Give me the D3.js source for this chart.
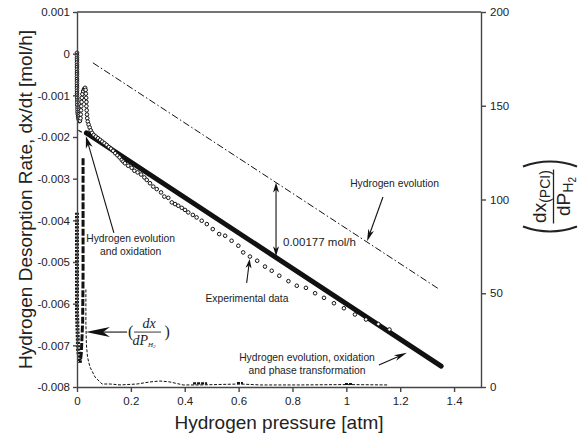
<!DOCTYPE html>
<html>
<head>
<meta charset="utf-8">
<script src="https://cdn.jsdelivr.net/npm/d3@7"></script>
<style>
  body { margin: 0; background: #fff; }
  svg { display: block; font-family: "Liberation Sans", Arial, Helvetica, sans-serif; }
</style>
</head>
<body>
<svg id="chart" width="583" height="438"></svg>
<script>
// ---------------- axis ticks ----------------
const xTicks = [0, 0.2, 0.4, 0.6, 0.8, 1, 1.2, 1.4];
const xTickLabels = ["0", "0.2", "0.4", "0.6", "0.8", "1", "1.2", "1.4"];
const yLeftTicks = [0.001, 0, -0.001, -0.002, -0.003, -0.004, -0.005, -0.006, -0.007, -0.008];
const yLeftTickLabels = ["0.001", "0", "-0.001", "-0.002", "-0.003", "-0.004", "-0.005", "-0.006", "-0.007", "-0.008"];
const yRightTicks = [0, 50, 100, 150, 200];
const yRightTickLabels = ["0", "50", "100", "150", "200"];

// ---------------- series ----------------
// Measured desorption rate [pressure (atm), dx/dt (mol/h)]
const experimental = [
  [0, 0.00002], [0, -0.00004], [0, -0.00010], [0, -0.00015], [0, -0.00021], [0, -0.00027],
  [0, -0.00032], [0, -0.00038], [0, -0.00044], [0, -0.00049], [0, -0.00055], [0, -0.00061],
  [0, -0.00066], [0, -0.00072], [0, -0.00078], [0, -0.00083], [0, -0.00089], [0, -0.00095],
  [0, -0.00100], [0.001, -0.00106], [0.001, -0.00112], [0.001, -0.00117], [0.001, -0.00123],
  [0.002, -0.00129], [0.002, -0.00134], [0.002, -0.00140], [0.003, -0.00145], [0.004, -0.00150],
  [0.005, -0.00155], [0.007, -0.00159], [0.009, -0.00162],
  [0.011, -0.00161], [0.013, -0.00155], [0.014, -0.00146], [0.015, -0.00136], [0.016, -0.00126],
  [0.017, -0.00116], [0.018, -0.00106], [0.020, -0.00097], [0.023, -0.00090], [0.026, -0.00085],
  [0.030, -0.00082], [0.032, -0.00087], [0.033, -0.00096], [0.034, -0.00106], [0.035, -0.00116],
  [0.035, -0.00126], [0.036, -0.00136], [0.037, -0.00146], [0.038, -0.00155], [0.040, -0.00163],
  [0.043, -0.00170], [0.047, -0.00177], [0.051, -0.00184], [0.056, -0.00190],
  [0.062, -0.00195], [0.070, -0.00199], [0.078, -0.00203], [0.086, -0.00207], [0.094, -0.00211],
  [0.102, -0.00215], [0.110, -0.00219], [0.118, -0.00224], [0.126, -0.00228], [0.134, -0.00233],
  [0.142, -0.00239], [0.150, -0.00244], [0.158, -0.00249], [0.166, -0.00255], [0.172, -0.00259],
  [0.178, -0.00263], [0.190, -0.00269], [0.203, -0.00274], [0.213, -0.00281], [0.225, -0.00285],
  [0.238, -0.00290], [0.250, -0.00297], [0.259, -0.00303], [0.271, -0.00311], [0.283, -0.00319],
  [0.296, -0.00325], [0.312, -0.00333], [0.324, -0.00343], [0.339, -0.00346], [0.352, -0.00357],
  [0.364, -0.00361], [0.376, -0.00365], [0.389, -0.00370], [0.401, -0.00375], [0.413, -0.00381],
  [0.430, -0.00387], [0.444, -0.00393], [0.463, -0.00401], [0.482, -0.00409], [0.504, -0.00421],
  [0.528, -0.00433], [0.550, -0.00437], [0.574, -0.00449], [0.599, -0.00461], [0.617, -0.00477],
  [0.642, -0.00487], [0.669, -0.00497], [0.698, -0.00511], [0.723, -0.00521], [0.751, -0.00533],
  [0.785, -0.00546], [0.816, -0.00557], [0.850, -0.00562], [0.884, -0.00575], [0.917, -0.00586],
  [0.954, -0.00599], [0.991, -0.00611], [1.032, -0.00626], [1.073, -0.00638], [1.119, -0.00649],
  [1.160, -0.00662]
];

// Model: hydrogen evolution only
const evolutionLine = [[0.059, -0.00022], [1.344, -0.00565]];
// Model: hydrogen evolution and oxidation
const evolutionOxidationLine = [[0.005, -0.00184], [0.045, -0.00199]];
// Model: hydrogen evolution, oxidation and phase transformation
const fullModelLine = [[0.035, -0.00190], [1.352, -0.00750]];

// dx(PCI)/dP(H2) on the right axis
const pciSteepA = [[0, 93], [0, 40], [0.004, 20], [0.011, 13]];
const pciSteepB = [[0.0225, 122], [0.0225, 60], [0.021, 35], [0.016, 18], [0.012, 13]];
const pciCurve = [
  [0.033, 52], [0.033, 34], [0.035, 22.4], [0.039, 16], [0.048, 10.7], [0.067, 5.3],
  [0.093, 1.6], [0.123, 1.6], [0.160, 1.1], [0.223, 1.6], [0.271, 2.7], [0.308, 3.2],
  [0.345, 2.7], [0.394, 1.1], [0.457, 1.1], [0.605, 1.6], [0.680, 1.1], [0.828, 1.1],
  [1.002, 1.3], [1.155, 1.1]
];
const pciHeavyBits = [
  [[0.431, 1.9], [0.483, 1.9]],
  [[0.594, 2.1], [0.616, 2.1]],
  [[0.995, 1.6], [1.025, 1.6]]
];

// gap between evolution-only model and full model
const gapPressure = 0.739;
const gapValue = 0.00177;

// ---------------- layout ----------------
const svg = d3.select("#chart");
const plotLeft = 77, plotRight = 481, plotTop = 12, plotBottom = 387;

const x = d3.scaleLinear().domain([0, 1.5]).range([plotLeft, plotRight]);
const yL = d3.scaleLinear().domain([-0.008, 0.001]).range([plotBottom, plotTop]);
const yR = d3.scaleLinear().domain([0, 200]).range([plotBottom, plotTop]);

const axisColor = "#454545";
const ink = "#111";

// ---------------- dx/dP curve (right axis) ----------------
const lineR = d3.line().x(d => x(d[0])).y(d => yR(d[1]));
svg.append("path").datum(pciSteepA).attr("d", lineR)
  .attr("fill", "none").attr("stroke", ink).attr("stroke-width", 4)
  .attr("stroke-dasharray", "2.2,1.2");
svg.append("path").datum(pciSteepB).attr("d", lineR)
  .attr("fill", "none").attr("stroke", ink).attr("stroke-width", 3)
  .attr("stroke-dasharray", "7,1.8");
svg.append("path").datum(pciCurve).attr("d", lineR)
  .attr("fill", "none").attr("stroke", ink).attr("stroke-width", 1)
  .attr("stroke-dasharray", "3,1.6");
pciHeavyBits.forEach(seg => {
  svg.append("path").datum(seg).attr("d", lineR)
    .attr("fill", "none").attr("stroke", ink).attr("stroke-width", 2.2)
    .attr("stroke-dasharray", "3,1");
});

// ---------------- model lines (left axis) ----------------
const lineL = d3.line().x(d => x(d[0])).y(d => yL(d[1]));
svg.append("path").datum(evolutionLine).attr("d", lineL)
  .attr("fill", "none").attr("stroke", ink).attr("stroke-width", 1)
  .attr("stroke-dasharray", "7,2.5,1.5,2.5");
svg.append("path").datum(evolutionOxidationLine).attr("d", lineL)
  .attr("fill", "none").attr("stroke", ink).attr("stroke-width", 1.2)
  .attr("stroke-dasharray", "4,3");
svg.append("path").datum(fullModelLine).attr("d", lineL)
  .attr("fill", "none").attr("stroke", ink).attr("stroke-width", 5)
  .attr("stroke-linecap", "round");

// ---------------- experimental points ----------------
svg.append("g").selectAll("circle").data(experimental).join("circle")
  .attr("cx", d => x(d[0])).attr("cy", d => yL(d[1])).attr("r", 1.8)
  .attr("fill", "#fff").attr("stroke", ink).attr("stroke-width", 1);

// ---------------- axes ----------------
const gx = svg.append("g").attr("transform", `translate(0,${plotBottom})`)
  .call(d3.axisBottom(x).tickValues(xTicks).tickFormat((d, i) => xTickLabels[i])
    .tickSize(5).tickPadding(5).tickSizeOuter(0));
const gyl = svg.append("g").attr("transform", `translate(${plotLeft},0)`)
  .call(d3.axisLeft(yL).tickValues(yLeftTicks).tickFormat((d, i) => yLeftTickLabels[i])
    .tickSize(4).tickPadding(3).tickSizeOuter(0));
const gyr = svg.append("g").attr("transform", `translate(${plotRight},0)`)
  .call(d3.axisRight(yR).tickValues(yRightTicks).tickFormat((d, i) => yRightTickLabels[i])
    .tickSize(5).tickPadding(4).tickSizeOuter(0));
[gx, gyl, gyr].forEach(g => {
  g.selectAll(".domain, .tick line").attr("stroke", axisColor).attr("stroke-width", 1.4);
  g.selectAll(".tick text").attr("fill", "#222").style("font-size", "11.5px")
    .style("font-family", '"Liberation Sans", Arial, sans-serif');
});
svg.append("line").attr("x1", plotLeft).attr("x2", plotRight).attr("y1", plotTop).attr("y2", plotTop)
  .attr("stroke", axisColor).attr("stroke-width", 1.4);

// axis titles
svg.append("text").attr("transform", `translate(32,${(plotTop + plotBottom) / 2}) rotate(-90)`)
  .attr("text-anchor", "middle").attr("fill", "#222").style("font-size", "19px")
  .text("Hydrogen Desorption Rate, dx/dt [mol/h]");
svg.append("text").attr("x", (plotLeft + plotRight) / 2).attr("y", 429)
  .attr("text-anchor", "middle").attr("fill", "#222").style("font-size", "19px")
  .text("Hydrogen pressure [atm]");

// right-axis title: ( dx(PCI) / dP H2 )
const rt = svg.append("g").attr("transform", `translate(550,${(plotTop + plotBottom) / 2 - 3}) rotate(-90)`)
  .attr("fill", "#222");
const num = rt.append("text").attr("text-anchor", "middle").attr("y", -4).style("font-size", "19px");
num.append("tspan").text("dx");
num.append("tspan").attr("dy", 4).style("font-size", "14px").text("(PCI)");
rt.append("line").attr("x1", -27).attr("x2", 27).attr("y1", 3.5).attr("y2", 3.5)
  .attr("stroke", "#222").attr("stroke-width", 1.3);
const den = rt.append("text").attr("text-anchor", "middle").attr("y", 20).style("font-size", "19px");
den.append("tspan").text("dP");
den.append("tspan").attr("dy", 3).style("font-size", "14px").text("H");
den.append("tspan").attr("dy", 3).style("font-size", "10px").text("2");
rt.append("path").attr("d", "M-30,-27 Q-40,0 -30,27").attr("fill", "none")
  .attr("stroke", "#222").attr("stroke-width", 2.2);
rt.append("path").attr("d", "M30,-27 Q40,0 30,27").attr("fill", "none")
  .attr("stroke", "#222").attr("stroke-width", 2.2);

// ---------------- annotations ----------------
function arrowHead(tx, ty, fx, fy, len, wid) {
  const a = Math.atan2(ty - fy, tx - fx);
  const ca = Math.cos(a), sa = Math.sin(a);
  const bx = tx - len * ca, by = ty - len * sa;
  const nx = tx - len * 0.72 * ca, ny = ty - len * 0.72 * sa;
  const px = -sa * wid / 2, py = ca * wid / 2;
  svg.append("path")
    .attr("d", `M${tx},${ty}L${bx + px},${by + py}L${nx},${ny}L${bx - px},${by - py}Z`)
    .attr("fill", ink);
  return [nx, ny];
}
function arrow(x1, y1, x2, y2, len, wid, both) {
  const end = arrowHead(x2, y2, x1, y1, len, wid);
  let start = [x1, y1];
  if (both) start = arrowHead(x1, y1, x2, y2, len, wid);
  svg.append("line").attr("x1", start[0]).attr("y1", start[1]).attr("x2", end[0]).attr("y2", end[1])
    .attr("stroke", ink).attr("stroke-width", 1.1);
}
function label(lines, cx, baseY, size, anchor) {
  const t = svg.append("text").attr("text-anchor", anchor || "middle").attr("fill", "#222")
    .style("font-size", size + "px");
  lines.forEach((s, i) => t.append("tspan").attr("x", cx).attr("y", baseY + i * (size + 2.6)).text(s));
}

// hydrogen evolution and oxidation
label(["Hydrogen evolution", "and oxidation"], x(0.199), yL(-0.00452), 10.3);
arrow(x(0.137), yL(-0.00430), x(0.033), yL(-0.00198), 12, 7);

// experimental data
label(["Experimental data"], x(0.631), yL(-0.00596), 10.3);
arrow(x(0.630), yL(-0.00550), x(0.641), yL(-0.00493), 9, 6);

// gap between the two models
const gapTop = evolutionLine[0][1] + (evolutionLine[1][1] - evolutionLine[0][1]) *
  (gapPressure - evolutionLine[0][0]) / (evolutionLine[1][0] - evolutionLine[0][0]);
arrow(x(gapPressure), yL(gapTop), x(gapPressure), yL(gapTop - gapValue), 10, 6, true);
label([gapValue.toFixed(5) + " mol/h"], x(0.765), yL(-0.00462), 11.5, "start");

// hydrogen evolution
label(["Hydrogen evolution"], x(1.179), yL(-0.00320), 10.3);
arrow(x(1.136), yL(-0.00344), x(1.077), yL(-0.00450), 12, 6);

// hydrogen evolution, oxidation and phase transformation
label(["Hydrogen evolution, oxidation", "and phase transformation"], x(0.854), yL(-0.00738), 10.3);
arrow(x(1.121), yL(-0.00747), x(1.225), yL(-0.00718), 13, 6);

// dx/dP label with arrow
arrow(x(0.186), yR(29.3), x(0.033), yR(29.3), 24, 10);
const fx = x(0.26), fy = yR(29.3);
const serif = '"Liberation Serif", "DejaVu Serif", Times, serif';
svg.append("text").attr("x", x(0.189)).attr("y", fy + 5).attr("fill", "#222")
  .style("font-family", serif).style("font-size", "16px").text("(");
svg.append("text").attr("x", x(0.325)).attr("y", fy + 5).attr("fill", "#222")
  .style("font-family", serif).style("font-size", "16px").text(")");
svg.append("text").attr("x", fx + 2).attr("y", fy - 4).attr("text-anchor", "middle").attr("fill", "#222")
  .style("font-family", serif).style("font-style", "italic").style("font-size", "14px").text("dx");
svg.append("line").attr("x1", fx - 13).attr("x2", fx + 14).attr("y1", fy).attr("y2", fy)
  .attr("stroke", "#222").attr("stroke-width", 0.9);
const dp = svg.append("text").attr("x", fx - 3).attr("y", fy + 13).attr("text-anchor", "middle").attr("fill", "#222")
  .style("font-family", serif).style("font-style", "italic").style("font-size", "14px");
dp.append("tspan").text("dP");
dp.append("tspan").attr("dy", 2).style("font-size", "7px").text("H");
dp.append("tspan").attr("dy", 1).style("font-size", "5px").text("2");
</script>
</body>
</html>
